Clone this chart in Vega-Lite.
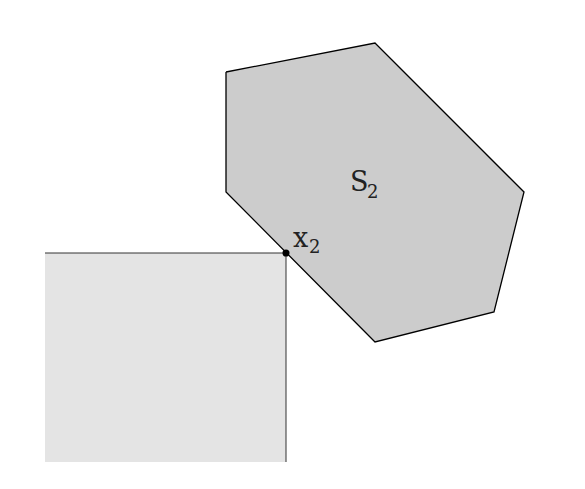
{
  "$schema": "https://vega.github.io/schema/vega-lite/v6.json",
  "width": 585,
  "height": 489,
  "padding": 0,
  "autosize": {"type": "fit", "contains": "padding"},
  "config": {"view": {"stroke": null}},
  "datasets": {
    "square": [
      {"x": 45, "y": 253, "o": 1},
      {"x": 286, "y": 253, "o": 2},
      {"x": 286, "y": 462, "o": 3},
      {"x": 45, "y": 462, "o": 4},
      {"x": 45, "y": 253, "o": 5}
    ],
    "edges": [
      {"x": 45, "y": 253, "o": 1},
      {"x": 286, "y": 253, "o": 2},
      {"x": 286, "y": 462, "o": 3}
    ],
    "hexagon": [
      {"x": 226, "y": 72, "o": 1},
      {"x": 375, "y": 43, "o": 2},
      {"x": 524, "y": 192, "o": 3},
      {"x": 494, "y": 312, "o": 4},
      {"x": 375, "y": 342, "o": 5},
      {"x": 226, "y": 192, "o": 6},
      {"x": 226, "y": 72, "o": 7}
    ],
    "point": [{"x": 286, "y": 253}],
    "labels": [
      {"x": 350, "y": 183, "t": "S", "size": 27, "style": "italic"},
      {"x": 367, "y": 193, "t": "2", "size": 18, "style": "normal"},
      {"x": 293, "y": 239, "t": "x", "size": 27, "style": "italic"},
      {"x": 309, "y": 248, "t": "2", "size": 18, "style": "normal"}
    ]
  },
  "encoding": {
    "x": {"field": "x", "type": "quantitative", "scale": {"domain": [0, 585], "nice": false, "zero": false}, "axis": null},
    "y": {"field": "y", "type": "quantitative", "scale": {"domain": [0, 489], "nice": false, "zero": false, "reverse": true}, "axis": null}
  },
  "layer": [
    {
      "data": {"name": "square"},
      "mark": {"type": "line", "fill": "#e4e4e4", "stroke": null},
      "encoding": {"order": {"field": "o"}}
    },
    {
      "data": {"name": "edges"},
      "mark": {"type": "line", "stroke": "#333", "strokeWidth": 1},
      "encoding": {"order": {"field": "o"}}
    },
    {
      "data": {"name": "hexagon"},
      "mark": {"type": "line", "fill": "#cccccc", "stroke": "black", "strokeWidth": 1.3},
      "encoding": {"order": {"field": "o"}}
    },
    {
      "data": {"name": "point"},
      "mark": {"type": "circle", "size": 50, "color": "black", "opacity": 1}
    },
    {
      "data": {"name": "labels"},
      "mark": {"type": "text", "font": "DejaVu Serif", "align": "left", "baseline": "middle", "color": "#222"},
      "encoding": {
        "text": {"field": "t"},
        "size": {"field": "size", "type": "quantitative", "scale": null},
        "fontStyle": {"field": "style", "type": "nominal", "scale": null}
      }
    }
  ]
}
